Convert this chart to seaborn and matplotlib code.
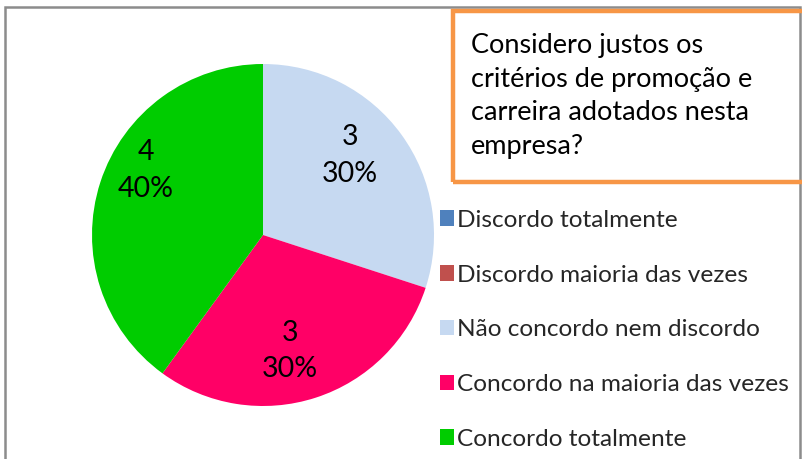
import matplotlib
matplotlib.use("Agg")
import matplotlib.pyplot as plt
import seaborn as sns
import numpy as np
from matplotlib.patches import Patch, Rectangle

categories = ["Discordo totalmente", "Discordo maioria das vezes",
              "Não concordo nem discordo", "Concordo na maioria das vezes",
              "Concordo totalmente"]
counts = [0, 0, 3, 3, 4]
colors = ["#4F81BD", "#C0504D", "#C6D9F1", "#FF0066", "#00CC00"]
title = "Considero justos os\ncritérios de promoção e\ncarreira adotados nesta\nempresa?"

# label anchor positions (axes data units, pie radius = 1)
label_pos = [None, None, (0.509, 0.466), (0.158, -0.678), (-0.686, 0.378)]

sns.set_theme(style="white")
plt.rcParams['font.family'] = ['Lato', 'DejaVu Sans']

W, H = 803, 459
fig = plt.figure(figsize=(W/100, H/100), dpi=100)

# outer gray border
fig.patches.append(Rectangle((5/W, -0.1), (800-5)/W, (H-7)/H + 0.1,
                             transform=fig.transFigure, fill=False,
                             edgecolor="#8C8C8C", linewidth=1.8, zorder=0))

cx, cy, r = 263, 459-235, 171
ax = fig.add_axes([(cx-r)/W, (cy-r)/H, 2*r/W, 2*r/H])
total = sum(counts)
wedges, _ = ax.pie(counts, colors=colors, startangle=90, counterclock=False,
                   radius=1, wedgeprops=dict(linewidth=0))
ax.set_xlim(-1, 1)
ax.set_ylim(-1, 1)
ax.set_aspect("equal")
ax.axis("off")

for c, pos in zip(counts, label_pos):
    if c == 0 or pos is None:
        continue
    ax.text(pos[0], pos[1], f"{c}\n{c/total:.0%}", ha="center", va="center",
            fontsize=20.5, color="black", linespacing=1.5)

# title box
fig.text(471/W, 1 - 96/H, title, ha="left", va="center", fontsize=19.5,
         linespacing=1.42, color="black")
fig.patches.append(Rectangle((453/W, 1-182/H), (810-453)/W, (182-11)/H,
                             transform=fig.transFigure, fill=False,
                             edgecolor="#F79646", linewidth=3.2, zorder=3))

handles = [Patch(facecolor=c, edgecolor="none") for c in colors]
fig.legend(handles, categories, loc="upper left",
           bbox_to_anchor=(430/W, 1 - 200/H), frameon=False, fontsize=17.6,
           handlelength=0.6, handleheight=0.6, handletextpad=0.12,
           labelspacing=1.38, borderaxespad=0)

fig.savefig("out.png", dpi=100)
